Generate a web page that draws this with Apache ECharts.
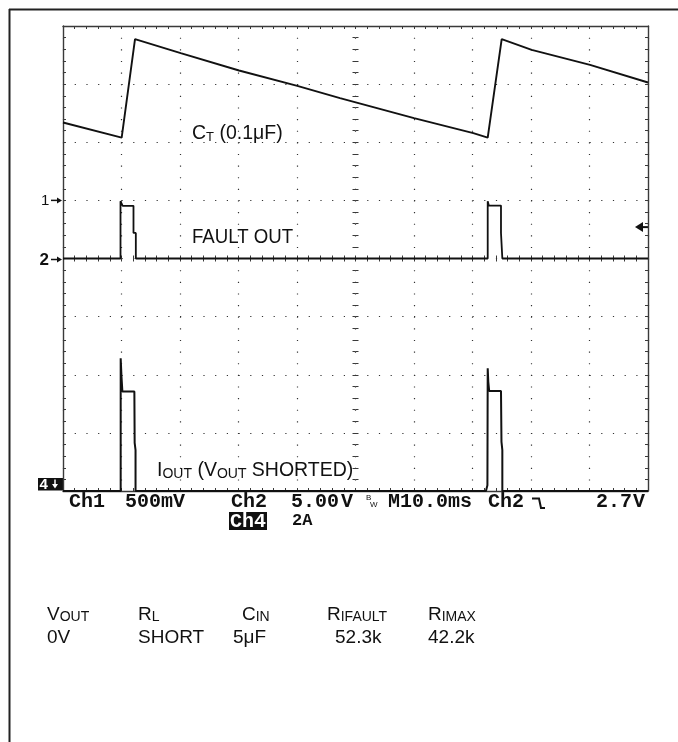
<!DOCTYPE html>
<html>
<head>
<meta charset="utf-8">
<script src="https://cdn.jsdelivr.net/npm/echarts@6/dist/echarts.min.js"></script>
<style>
  html, body { margin: 0; padding: 0; background: #fff; }
  #main { width: 678px; height: 742px; }
</style>
</head>
<body>
<div id="main"></div>
<script>
// 时间 ms（10ms/div），各通道读数
const ch1Time  = [0, 10.03, 12.31, 20.12, 30.09, 40.05, 47.35, 60.0, 70.14, 72.6, 74.99, 80.12, 90.09, 100];
const ch1Volts = [0.670, 0.540, 1.387, 1.267, 1.117, 0.985, 0.880, 0.707, 0.578, 0.540, 1.387, 1.295, 1.166, 1.014];

const ch2Time  = [0, 9.83, 9.83, 10.15, 10.2, 12.05, 12.05, 12.45, 12.45, 72.6, 72.6, 72.75, 72.8, 74.87, 74.87, 75.1, 75.1, 100];
const ch2Volts = [0, 0, 4.93, 4.93, 4.53, 4.53, 2.2, 2.2, 0, 0, 4.93, 4.93, 4.55, 4.55, 2.2, 2.2, 0, 0];

const ch4Time = [0, 9.86, 9.86, 10.0, 10.15, 12.2, 12.25, 12.4, 12.4, 72.3, 72.55, 72.6, 72.7, 72.85, 74.87, 74.95, 75.1, 75.1, 100];
const ch4Amps = [0, 0, 4.57, 3.93, 3.42, 3.42, 1.66, 1.41, 0, 0, 0.2, 4.22, 3.76, 3.44, 3.44, 1.70, 1.41, 0, 0];

const triggerLevel = 2.7; // Ch2 触发电平 V

// 示波器状态栏
const statusRow = ['Ch1', '500mV', 'Ch2', '5.00', 'V', 'M10.0ms', 'Ch2', '2.7', 'V'];
const statusX   = [69, 125, 231, 291, 341, 388, 488, 596, 633];

// 下方参数表
const paramNames  = [['V', 'OUT'], ['R', 'L'], ['C', 'IN'], ['R', 'IFAULT'], ['R', 'IMAX']];
const paramValues = ['0V', 'SHORT', '5μF', '52.3k', '42.2k'];
const nameX  = [47, 138, 242, 327, 428];
const valueX = [47, 138, 233, 335, 428];

function zip(xs, ys) {
  return xs.map((x, i) => [x, ys[i]]);
}

const gridColor = '#3a3a3a';
const dotColor = '#333';
const traceColor = '#111';

function edgeAxis(pos, min, max, interval, opts) {
  return Object.assign({
    type: 'value',
    position: pos,
    min: min,
    max: max,
    interval: interval,
    axisLine: { show: true, onZero: false, lineStyle: { color: gridColor, width: 1.4 } },
    axisTick: { show: true, inside: true, length: 3, lineStyle: { color: gridColor } },
    minorTick: { show: true, splitNumber: 5, length: 3, lineStyle: { color: gridColor } },
    axisLabel: { show: false },
    splitLine: { show: false }
  }, opts || {});
}

const chart = echarts.init(document.getElementById('main'));

chart.setOption({
  animation: false,
  backgroundColor: '#fff',
  grid: { left: 63, top: 26, width: 585, height: 465, outerBoundsMode: 'none' },
  xAxis: [
    edgeAxis('bottom', 0, 100, 10, {
      splitLine: { show: true, lineStyle: { color: dotColor, width: 1.2, type: [1.2, 10.425] } }
    }),
    edgeAxis('top', 0, 100, 10),
    // 中心十字刻度
    edgeAxis('bottom', 0, 100, 10, { offset: -232.5, axisLine: { show: false, onZero: false } }),
    edgeAxis('bottom', 0, 100, 10, {
      offset: -232.5,
      axisLine: { show: false, onZero: false },
      axisTick: { show: true, inside: false, length: 3, lineStyle: { color: gridColor } }
    })
  ],
  yAxis: [
    // Ch1 500mV/div
    edgeAxis('left', -2.5, 1.5, 0.5, {
      splitLine: { show: true, lineStyle: { color: dotColor, width: 1.2, type: [1.2, 10.5] } }
    }),
    // Ch2 5V/div
    { type: 'value', show: false, min: -20, max: 20, interval: 5 },
    // Ch4 2A/div
    { type: 'value', show: false, min: 0, max: 16, interval: 2 },
    edgeAxis('right', 0, 8, 1),
    edgeAxis('left', 0, 8, 1, { offset: -292.5, axisLine: { show: false, onZero: false } }),
    edgeAxis('left', 0, 8, 1, {
      offset: -292.5,
      axisLine: { show: false, onZero: false },
      axisTick: { show: true, inside: false, length: 3, lineStyle: { color: gridColor } }
    })
  ],
  series: [
    {
      name: 'CT', type: 'line', xAxisIndex: 0, yAxisIndex: 0,
      data: zip(ch1Time, ch1Volts),
      showSymbol: false, clip: false, silent: true,
      lineStyle: { color: traceColor, width: 1.9 }
    },
    {
      name: 'FAULT OUT', type: 'line', xAxisIndex: 0, yAxisIndex: 1,
      data: zip(ch2Time, ch2Volts),
      showSymbol: false, clip: false, silent: true,
      lineStyle: { color: traceColor, width: 1.8 }
    },
    {
      name: 'IOUT', type: 'line', xAxisIndex: 0, yAxisIndex: 2,
      data: zip(ch4Time, ch4Amps),
      showSymbol: false, clip: false, silent: true,
      lineStyle: { color: traceColor, width: 2 }
    }
  ]
});

// 通道标记位置从坐标轴换算
const p1 = chart.convertToPixel({ xAxisIndex: 0, yAxisIndex: 0 }, [0, 0]);
const p2 = chart.convertToPixel({ xAxisIndex: 0, yAxisIndex: 1 }, [0, 0]);
const p4 = chart.convertToPixel({ xAxisIndex: 0, yAxisIndex: 2 }, [0, 0]);
const pt = chart.convertToPixel({ xAxisIndex: 0, yAxisIndex: 1 }, [100, triggerLevel]);

const sans = "'Liberation Sans', Arial, sans-serif";
const mono = "'Liberation Mono', 'Courier New', monospace";

function arrowRight(x, y) {
  return [
    { type: 'line', shape: { x1: x - 12, y1: y, x2: x - 4, y2: y }, style: { stroke: '#111', lineWidth: 1.5 } },
    { type: 'polygon', shape: { points: [[x - 1, y], [x - 6, y - 3], [x - 6, y + 3]] }, style: { fill: '#111' } }
  ];
}

const graphics = [
  // 外框
  { type: 'line', shape: { x1: 9, y1: 9.5, x2: 678, y2: 9.5 }, style: { stroke: '#222', lineWidth: 2 } },
  { type: 'line', shape: { x1: 9.5, y1: 9, x2: 9.5, y2: 742 }, style: { stroke: '#222', lineWidth: 2 } },

  // 波形标注
  {
    type: 'text', x: 192, y: 133,
    style: {
      text: '{m|C}{s|T}{m| (0.1μF)}',
      verticalAlign: 'middle', fill: '#111', font: '19.5px ' + sans,
      rich: {
        m: { fontSize: 19.5, lineHeight: 22, verticalAlign: 'bottom', fontFamily: sans },
        s: { fontSize: 13, lineHeight: 15, verticalAlign: 'bottom', fontFamily: sans }
      }
    }
  },
  {
    type: 'text', x: 192, y: 237.5, scaleX: 0.91, originX: 0,
    style: { text: 'FAULT OUT', verticalAlign: 'middle', fill: '#111', font: '20.5px ' + sans }
  },
  {
    type: 'text', x: 157, y: 470,
    style: {
      text: '{m|I}{s|OUT}{m| (V}{s|OUT}{m| SHORTED)}',
      verticalAlign: 'middle', fill: '#111', font: '19.5px ' + sans,
      rich: {
        m: { fontSize: 19.5, lineHeight: 22, verticalAlign: 'bottom', fontFamily: sans },
        s: { fontSize: 14, lineHeight: 16, verticalAlign: 'bottom', fontFamily: sans }
      }
    }
  },

  // 通道标记
  { type: 'text', x: 41, y: p1[1], style: { text: '1', verticalAlign: 'middle', fill: '#111', font: '15px ' + sans } },
  ...arrowRight(p1[0], p1[1]),
  { type: 'text', x: 39.5, y: p2[1] + 2, style: { text: '2', verticalAlign: 'middle', fill: '#111', font: 'bold 17px ' + sans } },
  ...arrowRight(p2[0], p2[1] + 1),
  { type: 'rect', shape: { x: 38, y: p4[1] - 13, width: 25, height: 12.5 }, style: { fill: '#111' } },
  { type: 'text', x: 39.5, y: p4[1] - 6.3, style: { text: '4', verticalAlign: 'middle', fill: '#fff', font: 'bold 15px ' + sans } },
  { type: 'line', shape: { x1: 55, y1: p4[1] - 11.5, x2: 55, y2: p4[1] - 5 }, style: { stroke: '#fff', lineWidth: 1.5 } },
  { type: 'polygon', shape: { points: [[55, p4[1] - 2.5], [52, p4[1] - 7], [58, p4[1] - 7]] }, style: { fill: '#fff' } },

  // 触发电平标记
  { type: 'polygon', shape: { points: [[pt[0] - 13, pt[1]], [pt[0] - 5, pt[1] - 5], [pt[0] - 5, pt[1] + 5]] }, style: { fill: '#111' } },
  { type: 'line', shape: { x1: pt[0] - 6, y1: pt[1], x2: pt[0], y2: pt[1] }, style: { stroke: '#111', lineWidth: 2 } },

  // Ch4 反白
  { type: 'rect', shape: { x: 229, y: 512, width: 38, height: 18 }, style: { fill: '#111' } },
  { type: 'text', x: 230, y: 521.5, style: { text: 'Ch4', verticalAlign: 'middle', fill: '#fff', font: 'bold 20px ' + mono } },
  { type: 'text', x: 292, y: 520.5, style: { text: '2A', verticalAlign: 'middle', fill: '#111', font: 'bold 17px ' + mono } },

  // BW 与下降沿符号
  { type: 'text', x: 366, y: 498, style: { text: 'B', verticalAlign: 'middle', fill: '#111', font: '8px ' + sans } },
  { type: 'text', x: 370, y: 505, style: { text: 'W', verticalAlign: 'middle', fill: '#111', font: '8px ' + sans } },
  { type: 'polyline', shape: { points: [[532, 498.5], [539, 498.5], [541, 508], [545, 508]] }, style: { stroke: '#111', lineWidth: 2, fill: null } }
];

statusRow.forEach((t, i) => {
  graphics.push({
    type: 'text', x: statusX[i], y: 502,
    style: { text: t, verticalAlign: 'middle', fill: '#111', font: 'bold 20px ' + mono }
  });
});

paramNames.forEach((n, i) => {
  graphics.push({
    type: 'text', x: nameX[i], y: 613,
    style: {
      text: '{m|' + n[0] + '}{s|' + n[1] + '}',
      verticalAlign: 'middle', fill: '#111', font: '19px ' + sans,
      rich: {
        m: { fontSize: 19, lineHeight: 22, verticalAlign: 'bottom', fontFamily: sans },
        s: { fontSize: 14, lineHeight: 16, verticalAlign: 'bottom', fontFamily: sans }
      }
    }
  });
});

paramValues.forEach((v, i) => {
  graphics.push({
    type: 'text', x: valueX[i], y: 638,
    style: { text: v, verticalAlign: 'middle', fill: '#111', font: '19px ' + sans }
  });
});

chart.setOption({ graphic: graphics });
</script>
</body>
</html>
